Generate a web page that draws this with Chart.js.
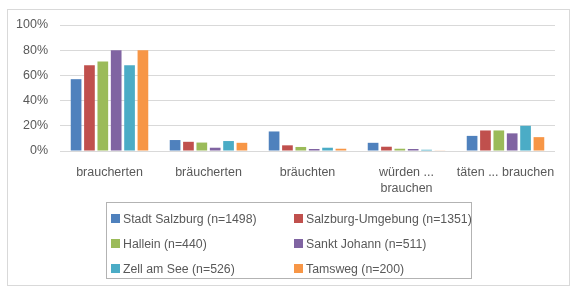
<!DOCTYPE html>
<html>
<head>
<meta charset="utf-8">
<script src="https://cdn.jsdelivr.net/npm/chart.js@4/dist/chart.umd.min.js"></script>
<style>
  html, body { margin: 0; padding: 0; background: #ffffff; }
  #wrap { position: relative; width: 578px; height: 293px; overflow: hidden; font-family: "Liberation Sans", Arial, sans-serif; }
  #frame { position: absolute; left: 7px; top: 9px; width: 561px; height: 275px; border: 1px solid #d9d9d9; }
  #cv { position: absolute; left: 0; top: 0; }
  #legend { position: absolute; left: 106px; top: 202px; width: 364px; height: 75px; border: 1px solid #b3b3b3; }
  .li { position: absolute; height: 16px; line-height: 16px; font-size: 12.3px; color: #595959; white-space: nowrap; }
  .sw { position: absolute; left: 0; top: 3px; width: 9px; height: 9px; }
  .tx { position: absolute; left: 12px; top: 0; }
</style>
</head>
<body>
<div id="wrap">
  <div id="frame"></div>
  <canvas id="cv" width="578" height="293"></canvas>
  <div id="legend"></div>
</div>
<script>
const categories = ["braucherten", "bräucherten", "bräuchten", ["würden ...", "brauchen"], "täten ... brauchen"];
const seriesNames = ["Stadt Salzburg (n=1498)", "Salzburg-Umgebung (n=1351)", "Hallein (n=440)", "Sankt Johann (n=511)", "Zell am See (n=526)", "Tamsweg (n=200)"];
const stadtSalzburg    = [57, 8.7, 15.5, 6.5, 12];
const salzburgUmgebung = [68, 7.3, 4.5, 3.4, 16.3];
const hallein          = [71, 6.7, 3.2, 1.8, 16.3];
const sanktJohann      = [80, 2.6, 1.6, 1.6, 14];
const zellAmSee        = [68, 7.9, 2.6, 1.0, 20];
const tamsweg          = [80, 6.5, 1.8, 0.5, 11];
const yTicks = [0, 20, 40, 60, 80, 100];

const colors = ["#4F81BD", "#C0504D", "#9BBB59", "#8064A2", "#4BACC6", "#F79646"];
const seriesValues = [stadtSalzburg, salzburgUmgebung, hallein, sanktJohann, zellAmSee, tamsweg];

const datasets = seriesNames.map((name, i) => ({
  label: name,
  data: seriesValues[i],
  backgroundColor: colors[i],
  borderWidth: 0,
  categoryPercentage: 0.81,
  barPercentage: 0.8
}));

const chart = new Chart(document.getElementById("cv"), {
  type: "bar",
  data: { labels: categories, datasets },
  options: {
    responsive: false,
    animation: false,
    devicePixelRatio: 1,
    layout: { padding: { left: 15, right: 23, top: 25, bottom: 97 } },
    plugins: { legend: { display: false }, tooltip: { enabled: false } },
    scales: {
      x: {
        grid: { display: false, drawTicks: false },
        border: { display: false },
        ticks: {
          color: "#595959",
          font: { family: "Liberation Sans", size: 12.5, lineHeight: 1.3 },
          padding: 13,
          maxRotation: 0,
          autoSkip: false
        },
        afterFit: (s) => { s.height = 45; }
      },
      y: {
        min: 0, max: 100,
        afterBuildTicks: (s) => { s.ticks = yTicks.map(v => ({ value: v })); },
        grid: { color: "#d9d9d9", drawTicks: false, lineWidth: 1 },
        border: { display: false },
        ticks: {
          color: "#595959",
          font: { family: "Liberation Sans", size: 12.5 },
          padding: 12,
          callback: (v) => v + "%"
        },
        afterFit: (s) => { s.width = 45; }
      }
    }
  }
});

// HTML legend built from datasets (two columns, three rows)
const legend = document.getElementById("legend");
const colX = [4, 187];
const rowY = [8, 33, 58];
chart.data.datasets.forEach((ds, i) => {
  const item = document.createElement("div");
  item.className = "li";
  item.style.left = colX[i % 2] + "px";
  item.style.top = rowY[Math.floor(i / 2)] + "px";
  const sw = document.createElement("span");
  sw.className = "sw";
  sw.style.background = ds.backgroundColor;
  const tx = document.createElement("span");
  tx.className = "tx";
  tx.textContent = ds.label;
  item.appendChild(sw);
  item.appendChild(tx);
  legend.appendChild(item);
});
</script>
</body>
</html>
